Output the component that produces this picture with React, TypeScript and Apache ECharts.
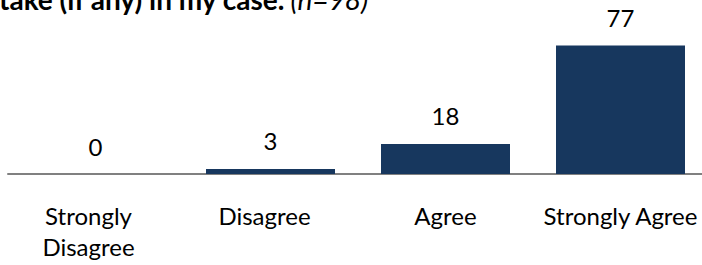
import React, { useEffect, useRef } from "react";
import * as echarts from "echarts";

const categories = ["Strongly\nDisagree", "Disagree", "Agree", "Strongly Agree"];
const values = [0, 3, 18, 77];
const titleMain = "take (if any) in my case.";
const titleNote = "(n=98)";

export default function App() {
  const ref = useRef<HTMLDivElement>(null);
  useEffect(() => {
    document.body.style.margin = "0";
    const chart = echarts.init(ref.current!, null, { renderer: "svg" });
    const font = "Lato";
    chart.setOption({
      animation: false,
      title: {
        text: `{b|${titleMain}} {i|${titleNote}}`,
        left: -1,
        top: -15,
        padding: 0,
        textStyle: {
          fontWeight: "normal",
          rich: {
            b: { fontFamily: font, fontWeight: "bold", fontSize: 28, color: "#000", lineHeight: 28 },
            i: { fontFamily: font, fontWeight: "normal", fontStyle: "italic", fontSize: 28, color: "#000", lineHeight: 28 },
          },
        },
      },
      grid: { left: 8, width: 700, top: 7, bottom: 91, outerBoundsMode: "none", containLabel: false },
      xAxis: {
        type: "category",
        data: categories.map((c, i) => ({
          value: c,
          textStyle: i === 0 ? { padding: [0, 14, 0, 0] } : i === 1 ? { padding: [0, 12, 0, 0] } : {},
        })),
        axisTick: { show: false },
        axisLine: { lineStyle: { color: "#808080", width: 2 } },
        axisLabel: {
          interval: 0,
          margin: 26,
          fontFamily: font,
          fontSize: 24,
          lineHeight: 31,
          color: "#000",
        },
      },
      yAxis: {
        type: "value",
        min: 0,
        max: 100,
        show: false,
        splitLine: { show: false },
      },
      series: [
        {
          type: "bar",
          data: values,
          barWidth: 129,
          itemStyle: { color: "#17375E" },
          label: {
            show: true,
            position: "top",
            distance: 16,
            fontFamily: font,
            fontSize: 24,
            color: "#000",
          },
        },
      ],
    });
    return () => chart.dispose();
  }, []);
  return <div ref={ref} style={{ width: 702, height: 265 }} />;
}
